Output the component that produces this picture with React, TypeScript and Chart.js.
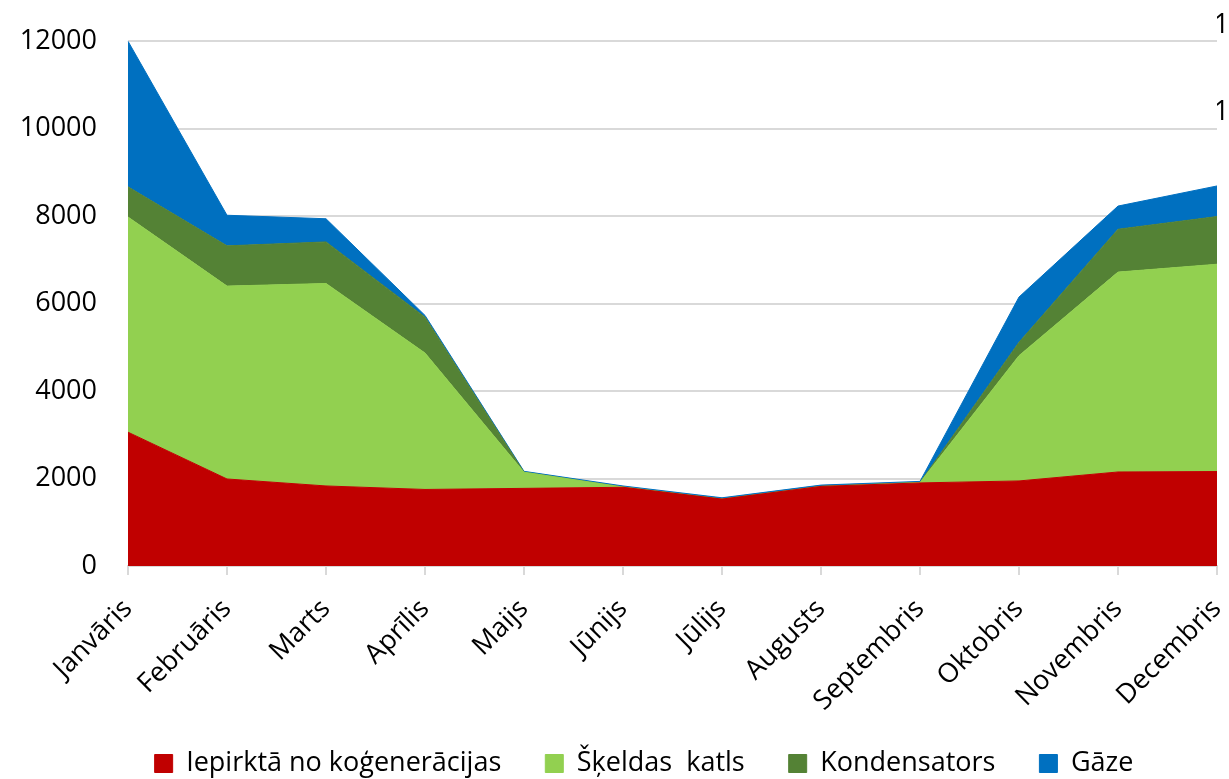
import { useEffect, useRef } from 'react';
import { Chart, registerables } from 'chart.js';

Chart.register(...registerables);

const months = ['Janvāris', 'Februāris', 'Marts', 'Aprīlis', 'Maijs', 'Jūnijs', 'Jūlijs', 'Augusts', 'Septembris', 'Oktobris', 'Novembris', 'Decembris'];
const seriesNames = ['Iepirktā no koģenerācijas', 'Šķeldas  katls', 'Kondensators', 'Gāze'];
const purchased = [3060, 1990, 1830, 1750, 1775, 1800, 1530, 1820, 1900, 1945, 2150, 2160];
const chipBoiler = [4920, 4410, 4630, 3120, 370, 5, 0, 0, 10, 2865, 4570, 4740];
const condenser = [690, 920, 950, 820, 0, 0, 0, 0, 0, 305, 980, 1090];
const gas = [3330, 700, 530, 40, 20, 25, 30, 30, 25, 1035, 530, 700];
const colors = ['#C00000', '#92D050', '#548235', '#0070C0'];
const yMin = 0;
const yMax = 12000;
const yStep = 2000;

export default function App() {
  const ref = useRef<HTMLCanvasElement>(null);
  useEffect(() => {
    const font = { family: "'Open Sans', sans-serif", size: 27 };
    const values = [purchased, chipBoiler, condenser, gas];
    const plain = (v: any) => String(v);
    const chart = new Chart(ref.current as HTMLCanvasElement, {
      type: 'line',
      data: {
        labels: months,
        datasets: values.map((v, i) => ({
          label: seriesNames[i],
          data: v,
          backgroundColor: colors[i],
          borderColor: colors[i],
          borderWidth: 1,
          fill: i === 0 ? 'origin' : '-1',
          pointRadius: 0,
          tension: 0,
          yAxisID: 'y',
        })),
      },
      options: {
        responsive: false,
        animation: false,
        layout: { padding: { top: 47, left: -3, right: 0, bottom: 0 } },
        plugins: {
          legend: {
            position: 'bottom',
            labels: { boxWidth: 18, boxHeight: 18, padding: 44, color: '#000', font },
          },
          tooltip: { enabled: false },
        },
        scales: {
          x: {
            grid: { display: true, drawOnChartArea: false, drawTicks: true, tickLength: 9, color: '#d9d9d9', lineWidth: 2 },
            border: { color: '#d9d9d9', width: 2 },
            ticks: { color: '#000', font, minRotation: 45, maxRotation: 45, autoSkip: false, padding: 18 },
            afterFit: (s: any) => { s.height = 140; },
            afterUpdate: (s: any) => { s._computeLabelArea = () => undefined; },
          },
          y: {
            stacked: true,
            min: yMin,
            max: yMax,
            ticks: { stepSize: yStep, color: '#000', font, padding: 31, callback: plain },
            grid: { color: '#d9d9d9', lineWidth: 2, drawTicks: false },
            border: { display: false },
            afterFit: (s: any) => { s.width = 131; },
          },
          y2: {
            position: 'right',
            min: yMin,
            max: yMax,
            ticks: { stepSize: yStep, color: '#000', font, crossAlign: 'far', labelOffset: -16, callback: plain },
            grid: { display: false, drawTicks: false },
            border: { display: false },
            afterFit: (s: any) => { s.width = 74; },
          },
        },
      } as any,
    });
    return () => chart.destroy();
  }, []);
  return (
    <div style={{ position: 'fixed', left: 0, top: 0, width: 1229, height: 779, overflow: 'hidden', background: '#fff' }}>
      <canvas ref={ref} width={1291} height={793} style={{ display: 'block', marginTop: -6 }} />
    </div>
  );
}
